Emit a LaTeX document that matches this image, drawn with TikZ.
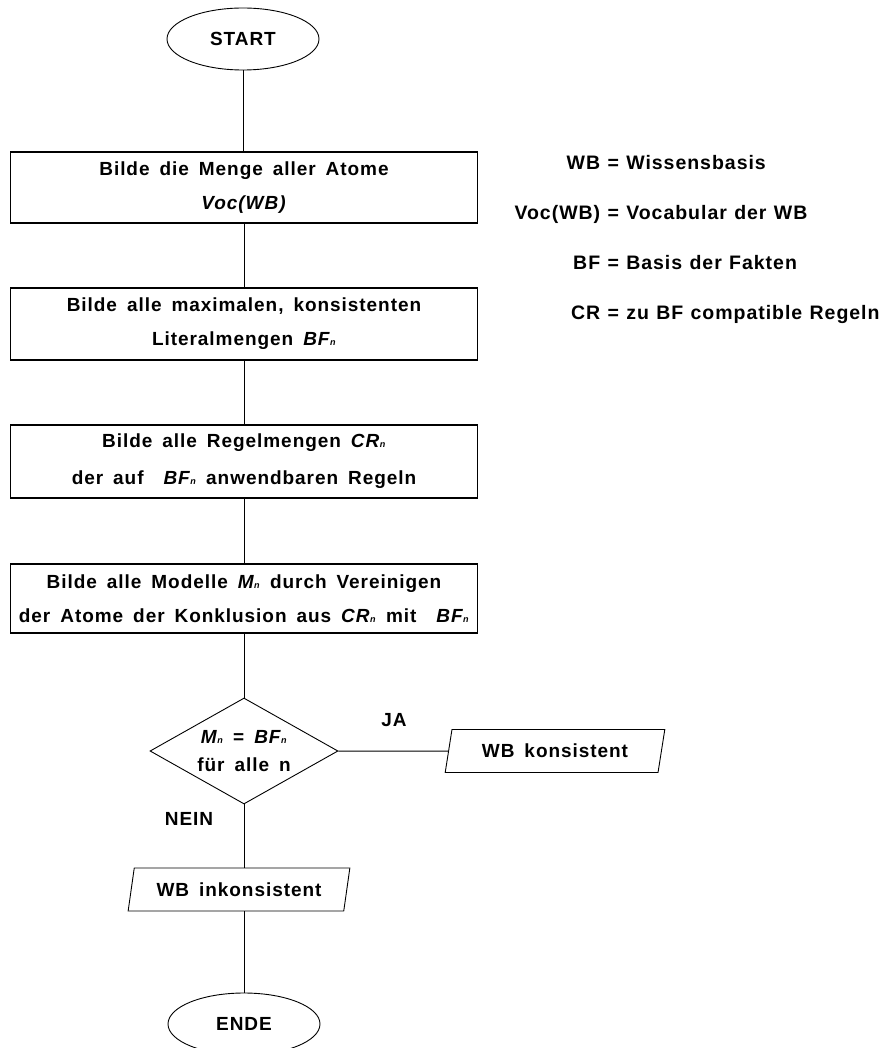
\documentclass[tikz,border=0pt]{standalone}
\usepackage{fontspec}
\setmainfont{Liberation Sans}[LetterSpace=5, WordSpace=1.6]
\newfontfamily\legendfont{Liberation Sans}[LetterSpace=5, WordSpace=1.15]
\usetikzlibrary{shapes.geometric}
% small index letter set on the baseline
\newcommand\idxn{\kern0.5pt{\fontsize{9}{9}\selectfont n}}
\begin{document}
\begin{tikzpicture}[x=1pt, y=-1pt,
  every node/.style={inner sep=0pt, align=center,
    font=\bfseries\fontsize{19}{34}\selectfont},
  conn/.style={line width=1pt},
  stepbox/.style={draw, line width=1.2pt, minimum width=467pt},
  terminal/.style={draw, ellipse, line width=0.9pt, minimum width=152pt, minimum height=62pt},
  decision/.style={draw, diamond, aspect=1.77, line width=0.9pt,
    minimum width=188pt, minimum height=106pt,
    font=\bfseries\fontsize{19}{28}\selectfont},
  io/.style={draw, trapezium, trapezium left angle=71, trapezium right angle=109,
    trapezium stretches=true, line width=0.9pt, minimum height=43pt},
  legend/.style={anchor=base west, font=\legendfont\bfseries\fontsize{19.5}{22}\selectfont}
]
\useasboundingbox (0,0) rectangle (894,1048);

% main flow
\node[terminal] (start) at (243,39) {START};
\node[stepbox, minimum height=71pt] (b1) at (244,187.5)
  {Bilde die Menge aller Atome\\\textit{Voc(WB)}};
\node[stepbox, minimum height=72pt] (b2) at (244,324)
  {Bilde alle maximalen, konsistenten\\Literalmengen \textit{BF\idxn}};
\node[stepbox, minimum height=73pt] (b3) at (244,461.5)
  {Bilde alle Regelmengen \textit{CR\idxn}\\[3pt]der auf \ \textit{BF\idxn} anwendbaren Regeln};
\node[stepbox, minimum height=69pt] (b4) at (244,598.5)
  {Bilde alle Modelle \textit{M\idxn} durch Vereinigen\\der Atome der Konklusion aus \textit{CR\idxn} mit \ \textit{BF\idxn}};
\node[decision] (dec) at (244,751)
  {\textit{M\idxn} = \textit{BF\idxn}\\f\"ur alle n};
\node[io, minimum width=220pt] (ok) at (555,751) {WB konsistent};
\node[io, minimum width=222pt] (ko) at (239,889.5) {WB inkonsistent};
\node[terminal] (end) at (244,1024) {ENDE};

% branch labels
\node (ja) at (394,720) {JA};
\node (nein) at (189,819) {NEIN};

% connectors
\draw[conn] (start.south) -- (start.south |- b1.north);
\draw[conn] (b1.south) -- (b2.north);
\draw[conn] (b2.south) -- (b3.north);
\draw[conn] (b3.south) -- (b4.north);
\draw[conn] (b4.south) -- (dec.north);
\draw[conn] (dec.east) -- (ok.west);
\draw[conn] (dec.south) -- (dec.south |- ko.north);
\draw[conn] (dec.south |- ko.south) -- (end.north);

% legend
\node[legend] (l1) at (513,170) {\makebox[87pt][r]{WB} = Wissensbasis};
\node[legend] (l2) at (513,220) {\makebox[87pt][r]{Voc(WB)} = Vocabular der WB};
\node[legend] (l3) at (513,270) {\makebox[87pt][r]{BF} = Basis der Fakten};
\node[legend] (l4) at (513,319) {\makebox[87pt][r]{CR} = zu BF compatible Regeln};
\end{tikzpicture}
\end{document}
